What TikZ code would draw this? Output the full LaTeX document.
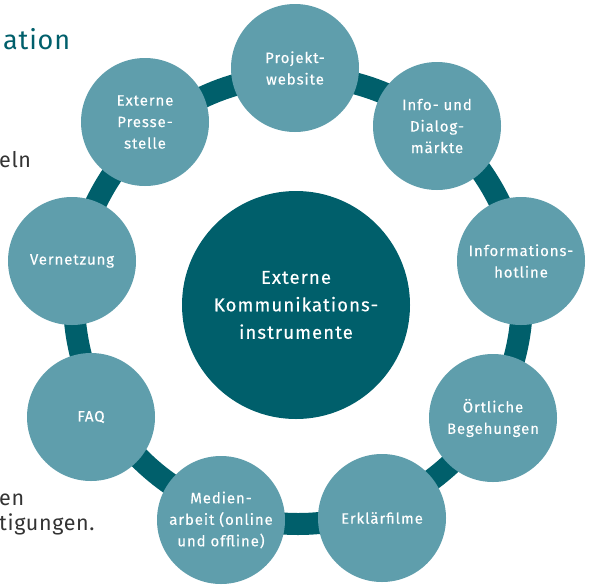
\documentclass[tikz,border=0pt]{standalone}
\usepackage{fontspec}
\setmainfont{Fira Sans}[LetterSpace=6,FakeBold=0.3]
\newfontfamily\sidefont{Fira Sans}[LetterSpace=3]
\definecolor{ringcol}{HTML}{005F6B}
\definecolor{smallcol}{HTML}{5F9EAC}
\definecolor{sidegray}{HTML}{333333}
\begin{document}
\begin{tikzpicture}[x=1pt,y=-1pt,
  small/.style={circle,fill=smallcol,minimum size=128pt,inner sep=0pt,text=white,
    font=\fontsize{15}{21.5}\selectfont,align=center},
  big/.style={circle,fill=ringcol,minimum size=228pt,inner sep=0pt,text=white,
    font=\fontsize{18.5}{27.5}\selectfont,align=center},
  side/.style={anchor=base west,inner sep=0pt,text=sidegray,font=\sidefont\fontsize{21.5}{24}\selectfont}]
\useasboundingbox (0,0) rectangle (591,584);
\clip (0,0) rectangle (591,584);
% cut-off page text on the left
\node[anchor=base west,inner sep=0pt,text=ringcol,font=\sidefont\fontsize{27}{30}\selectfont] (t1) at (3,49) {ation};
\node[side] (t2) at (-1,167) {eln};
\node[side] (t3) at (-1,505) {en};
\node[side] (t4) at (-1,530) {tigungen.};
% ring
\coordinate (rc) at (298,300);
\draw[ringcol,line width=22pt] (rc) circle[radius=224pt];
% centre
\node[big] (c) at (296,305) {Externe\\Kommunikations-\\instrumente};
% outer circles
\node[small] (n1) at (295,68) {Projekt-\\website};
\node[small] (n2) at (437,126) {Info- und\\Dialog-\\märkte};
\node[small] (n3) at (521,261) {Informations-\\hotline};
\node[small] (n4) at (493,418) {Örtliche\\Begehungen};
\node[small] (n5) at (382,518) {Erklärfilme};
\node[small] (n6) at (221,520) {Medien-\\arbeit (online\\und offline)};
\node[small] (n7) at (91,417) {FAQ};
\node[small] (n8) at (72,261) {Vernetzung};
\node[small] (n9) at (145,122) {Externe\\Presse-\\stelle};
\end{tikzpicture}
\end{document}
